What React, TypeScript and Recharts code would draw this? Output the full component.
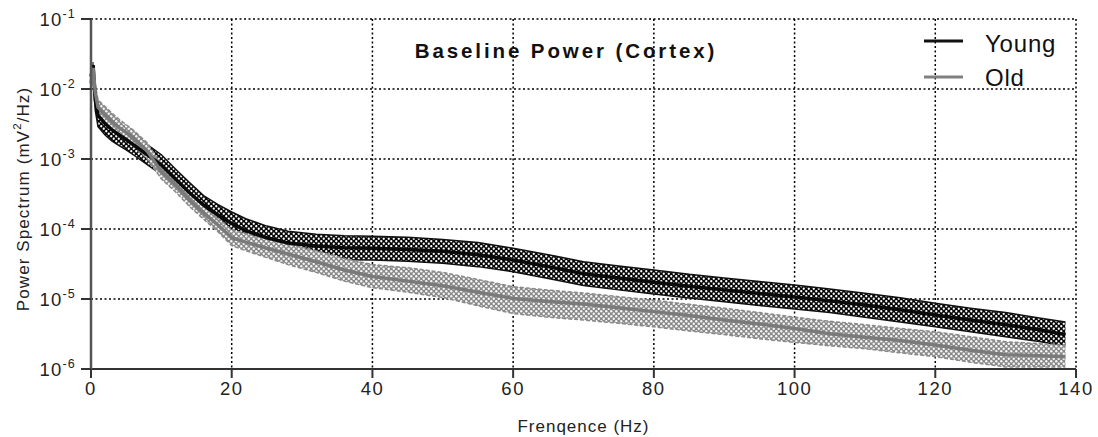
import React from 'react';
import {
  ComposedChart,
  Area,
  Line,
  XAxis,
  YAxis,
  CartesianGrid,
  Label,
} from 'recharts';

// frequency (Hz)
const freq = [
  0, 0.3, 0.6, 1, 2, 3, 4, 5, 6, 8, 10, 12, 14, 16, 18, 20, 22, 25, 28, 32, 36, 40, 45, 50, 55,
  60, 65, 70, 75, 80, 85, 90, 95, 100, 105, 110, 115, 120, 125, 130, 135, 138.5,
];

const youngMean = [
  1.5e-2, 2.2e-2, 7e-3, 4.2e-3, 3.2e-3, 2.6e-3, 2.2e-3, 1.9e-3, 1.6e-3, 1.15e-3, 8.2e-4, 5.2e-4,
  3.3e-4, 2.2e-4, 1.6e-4, 1.2e-4, 9.5e-5, 7.5e-5, 6.3e-5, 5.7e-5, 5.4e-5, 5.3e-5, 5.1e-5, 4.8e-5,
  4.3e-5, 3.6e-5, 2.9e-5, 2.3e-5, 2.0e-5, 1.74e-5, 1.52e-5, 1.35e-5, 1.2e-5, 1.07e-5, 9.4e-6,
  8.2e-6, 7.0e-6, 5.9e-6, 5.0e-6, 4.3e-6, 3.6e-6, 3.1e-6,
];
const youngLow = [
  1.1e-2, 1.8e-2, 5e-3, 2.9e-3, 2.2e-3, 1.8e-3, 1.55e-3, 1.35e-3, 1.15e-3, 8.3e-4, 6.0e-4, 3.9e-4,
  2.5e-4, 1.65e-4, 1.15e-4, 8.2e-5, 6.4e-5, 5.1e-5, 4.3e-5, 3.85e-5, 3.65e-5, 3.6e-5, 3.45e-5,
  3.25e-5, 2.9e-5, 2.45e-5, 1.96e-5, 1.56e-5, 1.35e-5, 1.18e-5, 1.03e-5, 9.1e-6, 8.1e-6, 7.2e-6,
  6.4e-6, 5.5e-6, 4.7e-6, 4.0e-6, 3.4e-6, 2.9e-6, 2.45e-6, 2.1e-6,
];
const youngHigh = [
  1.8e-2, 2.4e-2, 9e-3, 5.5e-3, 4.3e-3, 3.5e-3, 3.0e-3, 2.6e-3, 2.2e-3, 1.6e-3, 1.15e-3, 7.2e-4,
  4.6e-4, 3.0e-4, 2.25e-4, 1.75e-4, 1.4e-4, 1.1e-4, 9.3e-5, 8.4e-5, 8.0e-5, 7.9e-5, 7.6e-5, 7.1e-5,
  6.4e-5, 5.3e-5, 4.3e-5, 3.4e-5, 2.95e-5, 2.6e-5, 2.25e-5, 2.0e-5, 1.78e-5, 1.58e-5, 1.39e-5,
  1.21e-5, 1.04e-5, 8.7e-6, 7.4e-6, 6.4e-6, 5.3e-6, 4.7e-6,
];

const oldMean = [
  1.2e-2, 2.0e-2, 9e-3, 5.5e-3, 4.3e-3, 3.4e-3, 2.8e-3, 2.4e-3, 2.0e-3, 1.3e-3, 6.6e-4, 4.3e-4,
  2.6e-4, 1.7e-4, 1.15e-4, 7.5e-5, 6.5e-5, 5.3e-5, 4.4e-5, 3.4e-5, 2.6e-5, 2.1e-5, 1.8e-5, 1.55e-5,
  1.25e-5, 1.02e-5, 9.2e-6, 8.5e-6, 7.5e-6, 6.6e-6, 5.8e-6, 5.0e-6, 4.4e-6, 3.8e-6, 3.2e-6, 2.85e-6,
  2.55e-6, 2.2e-6, 1.85e-6, 1.6e-6, 1.55e-6, 1.5e-6,
];
const oldLow = [
  1.0e-2, 1.6e-2, 7e-3, 4.3e-3, 3.3e-3, 2.6e-3, 2.15e-3, 1.85e-3, 1.55e-3, 1.0e-3, 5.2e-4, 3.4e-4,
  2.1e-4, 1.38e-4, 9.2e-5, 5.8e-5, 4.9e-5, 3.9e-5, 3.1e-5, 2.4e-5, 1.8e-5, 1.45e-5, 1.25e-5,
  1.05e-5, 8.0e-6, 6.2e-6, 5.5e-6, 5.0e-6, 4.5e-6, 4.0e-6, 3.5e-6, 3.1e-6, 2.7e-6, 2.4e-6, 2.15e-6,
  1.95e-6, 1.7e-6, 1.5e-6, 1.25e-6, 1.07e-6, 1.07e-6, 1.07e-6,
];
const oldHigh = [
  1.5e-2, 2.4e-2, 1.15e-2, 7.0e-3, 5.6e-3, 4.5e-3, 3.7e-3, 3.1e-3, 2.6e-3, 1.7e-3, 8.3e-4, 5.4e-4,
  3.3e-4, 2.1e-4, 1.45e-4, 9.8e-5, 8.6e-5, 7.2e-5, 6.1e-5, 4.9e-5, 3.8e-5, 3.1e-5, 2.8e-5, 2.4e-5,
  1.9e-5, 1.5e-5, 1.34e-5, 1.22e-5, 1.08e-5, 9.6e-6, 8.4e-6, 7.4e-6, 6.4e-6, 5.5e-6, 4.8e-6,
  4.3e-6, 3.8e-6, 3.4e-6, 2.9e-6, 2.45e-6, 2.3e-6, 2.2e-6,
];

const xTicks = [0, 20, 40, 60, 80, 100, 120, 140];
const yTicks = [1e-6, 1e-5, 1e-4, 1e-3, 1e-2, 1e-1];

const seriesNames = ['Young', 'Old'];

const data = freq.map((f, i) => ({
  f,
  young: youngMean[i],
  youngBand: [youngLow[i], youngHigh[i]],
  old: oldMean[i],
  oldBand: [oldLow[i], oldHigh[i]],
}));

const FONT = '"Liberation Sans", Arial, sans-serif';

function PowerTick(props: any) {
  const { x, y, payload } = props;
  const exp = Math.round(Math.log10(payload.value));
  return (
    <text
      x={x - 3}
      y={y + 7}
      textAnchor="end"
      fontSize={18.5}
      letterSpacing={1.2}
      fill="#222"
      fontFamily={FONT}
    >
      10
      <tspan fontSize={12.5} dy={-8}>
        {exp}
      </tspan>
    </text>
  );
}

function FreqTick(props: any) {
  const { x, y, payload } = props;
  return (
    <text
      x={x}
      y={y + 15}
      textAnchor="middle"
      fontSize={18.5}
      letterSpacing={1.5}
      fill="#222"
      fontFamily={FONT}
    >
      {payload.value}
    </text>
  );
}

export default function App() {
  return (
    <div style={{ position: 'absolute', left: 0, top: 0, width: 1098, height: 437, background: '#fff' }}>
      <ComposedChart
        width={1098}
        height={437}
        data={data}
        margin={{ top: 19, right: 22, left: 0, bottom: 0 }}
      >
        <defs>
          <pattern id="checkDark" width={5} height={5} patternUnits="userSpaceOnUse">
            <rect width={5} height={5} fill="#050505" />
            <circle cx={1.25} cy={1.25} r={1.15} fill="#fff" />
            <circle cx={3.75} cy={3.75} r={1.15} fill="#fff" />
          </pattern>
          <pattern id="checkGray" width={5} height={5} patternUnits="userSpaceOnUse">
            <rect width={5} height={5} fill="#888" />
            <circle cx={1.25} cy={1.25} r={1.2} fill="#f6f6f6" />
            <circle cx={3.75} cy={3.75} r={1.2} fill="#f6f6f6" />
          </pattern>
        </defs>
        <CartesianGrid stroke="#000" strokeDasharray="2 2.5" strokeWidth={1.5} />
        <XAxis
          dataKey="f"
          type="number"
          domain={[0, 140]}
          ticks={xTicks}
          height={68}
          tickSize={9}
          tick={<FreqTick />}
          axisLine={{ stroke: '#333', strokeWidth: 2 }}
          tickLine={{ stroke: '#333', strokeWidth: 2 }}
        >
          <Label
            value="Frenqence (Hz)"
            position="insideBottom"
            offset={5}
            style={{ fontSize: 17, fill: '#222', fontFamily: FONT, letterSpacing: 1 }}
          />
        </XAxis>
        <YAxis
          scale="log"
          domain={[1e-6, 1e-1]}
          ticks={yTicks}
          allowDataOverflow
          width={91}
          tickSize={10}
          tick={<PowerTick />}
          axisLine={{ stroke: '#555', strokeWidth: 2.5 }}
          tickLine={{ stroke: '#333', strokeWidth: 2 }}
        >
          <Label
            content={() => {
              const cx = 23;
              const cy = 199;
              return (
                <text
                  x={cx}
                  y={cy}
                  transform={`rotate(-90 ${cx} ${cy})`}
                  textAnchor="middle"
                  dominantBaseline="central"
                  fontSize={17}
                  fill="#222"
                  fontFamily={FONT}
                  letterSpacing={1.1}
                >
                  Power Spectrum (mV
                  <tspan fontSize={11.5} dy={-6}>
                    2
                  </tspan>
                  <tspan dy={6}>/Hz)</tspan>
                </text>
              );
            }}
          />
        </YAxis>
        <Area
          dataKey="youngBand"
          type="linear"
          fill="url(#checkDark)"
          fillOpacity={1}
          stroke="#111"
          strokeWidth={1.5}
          isAnimationActive={false}
        />
        <Area
          dataKey="oldBand"
          type="linear"
          fill="url(#checkGray)"
          fillOpacity={1}
          stroke="#8a8a8a"
          strokeWidth={1.5}
          strokeDasharray="4 2"
          isAnimationActive={false}
        />
        <Line
          dataKey="young"
          type="linear"
          stroke="#0a0a0a"
          strokeWidth={3.5}
          dot={false}
          isAnimationActive={false}
        />
        <Line
          dataKey="old"
          type="linear"
          stroke="#7a7a7a"
          strokeWidth={3.5}
          dot={false}
          isAnimationActive={false}
        />
        <text
          x={566}
          y={58}
          textAnchor="middle"
          fontSize={20.5}
          fontWeight="bold"
          fontFamily={FONT}
          letterSpacing={2.9}
          fill="#111"
        >
          Baseline Power (Cortex)
        </text>
        <g>
          <line x1={924} x2={963} y1={41} y2={41} stroke="#111" strokeWidth={3} />
          <text x={985} y={52} fontSize={24} letterSpacing={0.8} fontFamily={FONT} fill="#111">
            {seriesNames[0]}
          </text>
          <line x1={924} x2={963} y1={77} y2={77} stroke="#808080" strokeWidth={3} />
          <text x={985} y={86} fontSize={24} letterSpacing={0.8} fontFamily={FONT} fill="#111">
            {seriesNames[1]}
          </text>
        </g>
      </ComposedChart>
    </div>
  );
}
